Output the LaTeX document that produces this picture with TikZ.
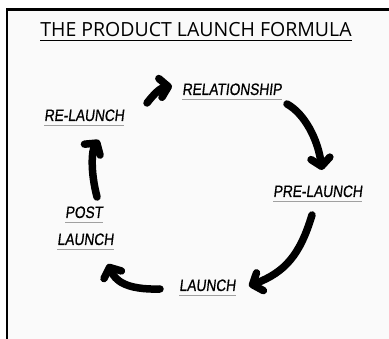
\documentclass[tikz,border=0pt]{standalone}
\usepackage{fontspec}
\usepackage{tikz}
\usetikzlibrary{arrows.meta, positioning, calc}
\newfontfamily\titlefont{Open Sans}
\newfontfamily\handfont[FakeStretch=0.83, FakeSlant=0.12, FakeBold=0.6]{Liberation Sans}
\definecolor{pagecolor}{RGB}{250,250,250}
\definecolor{linecolor}{RGB}{160,160,160}

\begin{document}
\begin{tikzpicture}[
    x=1pt, y=-1pt,
    brush/.style={line width=7.5pt, line cap=round, line join=round,
        -{Straight Barb[length=8pt, width=19pt, round]}},
    uline/.style={draw=linecolor, line width=1.3pt},
    lbl/.style={font=\handfont\fontsize{16.5}{18}\selectfont, inner xsep=0pt, inner ysep=4pt,
        text depth=0pt, anchor=base west,
        append after command={(\tikzlastnode.south west) edge[uline] (\tikzlastnode.south east)}},
    title/.style={font=\titlefont\fontsize{19.5}{21}\selectfont, inner xsep=0pt, inner ysep=3.5pt,
        text depth=0pt, anchor=base,
        append after command={(\tikzlastnode.south west) edge[draw=black, line width=1.3pt] (\tikzlastnode.south east)}},
]
    \useasboundingbox (0,0) rectangle (389,339);
    % page and frame
    \fill[pagecolor] (7,9.5) rectangle (389,339);
    \draw[line width=2.7pt] (7,339) -- (7,9.5) -- (389,9.5);

    \node[title] (head) at (196,36.5) {THE PRODUCT LAUNCH FORMULA};

    % stages
    \node[lbl] (rel)  at (182,95)  {RELATIONSHIP};
    \node[lbl] (pre)  at (273,197) {PRE-LAUNCH};
    \node[lbl] (lau)  at (179,291) {LAUNCH};
    \node[lbl] (post) at (65,218)  {POST};
    \node[lbl] (postl) at (57,245) {LAUNCH};
    \node[lbl] (rel2) at (44,121)  {RE-LAUNCH};

    % arrow ends
    \coordinate (rel2-out) at (147,103);
    \coordinate (rel-in)   at (172,86);
    \coordinate (rel-out)  at (287,104);
    \coordinate (pre-in)   at (322,170);
    \coordinate (pre-out)  at (312,215);
    \coordinate (lau-in)   at (249,286);
    \coordinate (lau-out)  at (160,289);
    \coordinate (post-in)  at (108,264);
    \coordinate (post-out) at (97,197);
    \coordinate (rel2-in)  at (99,140);

    \draw[brush] (rel2-out) .. controls (154,94) and (160,88) .. (rel-in);
    \draw[brush] (rel-out) .. controls (305,114) and (318,140) .. (pre-in);
    \draw[brush] (pre-out) .. controls (300,255) and (285,272) .. (lau-in);
    \draw[brush] (lau-out) .. controls (125,290) and (115,280) .. (post-in);
    \draw[brush] (post-out) .. controls (90,170) and (92,150) .. (rel2-in);
\end{tikzpicture}
\end{document}
